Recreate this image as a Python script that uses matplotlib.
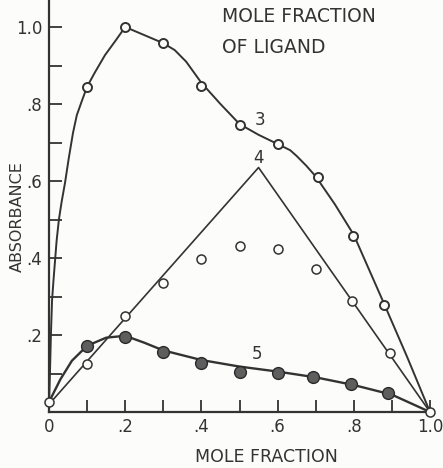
import matplotlib.pyplot as plt

# measured points (mole fraction, absorbance)
x3 = [0.1, 0.2, 0.3, 0.4, 0.5, 0.6, 0.705, 0.798, 0.88]
abs3 = [0.845, 1.0, 0.958, 0.847, 0.745, 0.696, 0.61, 0.457, 0.278]
x4 = [0.1, 0.2, 0.3, 0.4, 0.5, 0.6, 0.7, 0.795, 0.895]
abs4 = [0.125, 0.25, 0.335, 0.397, 0.431, 0.423, 0.371, 0.288, 0.153]
x5 = [0.1, 0.2, 0.3, 0.4, 0.5, 0.6, 0.693, 0.793, 0.89]
abs5 = [0.172, 0.195, 0.156, 0.128, 0.104, 0.101, 0.091, 0.073, 0.049]
end_x = [0.0, 1.0]
end_y = [0.026, 0.0]

# hand-drawn curves
c3_x = [0, 0.001, 0.003, 0.005, 0.008, 0.012, 0.016, 0.02, 0.026, 0.033,
        0.042, 0.052, 0.063, 0.073, 0.087, 0.1, 0.121, 0.147, 0.175, 0.2,
        0.3, 0.33, 0.36, 0.4, 0.45, 0.5, 0.55, 0.6, 0.633, 0.65, 0.675, 0.7,
        0.75, 0.8, 0.84, 0.88, 0.94, 1.0]
c3_y = [0, 0.05, 0.12, 0.2, 0.29, 0.345, 0.395, 0.445, 0.5, 0.545,
        0.595, 0.66, 0.725, 0.771, 0.81, 0.845, 0.883, 0.927, 0.965, 1.0,
        0.958, 0.94, 0.91, 0.855, 0.8, 0.748, 0.72, 0.696, 0.68, 0.665, 0.64,
        0.612, 0.54, 0.46, 0.37, 0.28, 0.143, 0]
c4_x = [0.0, 0.55, 1.0]
c4_y = [0.02, 0.635, 0.0]
c5_x = [0, 0.03, 0.06, 0.1, 0.15, 0.2, 0.25, 0.3, 0.4, 0.5, 0.6, 0.7, 0.8, 0.9, 1.0]
c5_y = [0.026, 0.085, 0.133, 0.172, 0.193, 0.198, 0.18, 0.16, 0.135, 0.118,
        0.105, 0.09, 0.07, 0.045, 0]

x_ticks = [0, 0.2, 0.4, 0.6, 0.8, 1.0]
x_labels = ["0", ".2", ".4", ".6", ".8", "1.0"]
y_ticks = [0.2, 0.4, 0.6, 0.8, 1.0]
y_labels = [".2", ".4", ".6", ".8", "1.0"]

ink = "#333333"
paper = "#fcfcfb"
plt.rcParams["font.family"] = "DejaVu Sans"

fig = plt.figure(figsize=(4.43, 4.68), dpi=100, facecolor=paper)
ax = fig.add_axes([49 / 443, 56 / 468, 381 / 443, 412 / 468])
ax.set_facecolor(paper)

lw = 1.4
ax.plot(c3_x, c3_y, color=ink, lw=lw, clip_on=False, solid_joinstyle="round")
ax.plot(c4_x, c4_y, color=ink, lw=lw - 0.2, clip_on=False)
ax.plot(c5_x, c5_y, color=ink, lw=lw + 0.3, clip_on=False, solid_joinstyle="round")

ax.plot(x3, abs3, "o", ms=6.5, mfc=paper, mec=ink, mew=1.4, clip_on=False)
ax.plot(x4, abs4, "o", ms=6.5, mfc=paper, mec=ink, mew=1.1, clip_on=False)
ax.plot(x5, abs5, "o", ms=8.5, mfc="#5e5e5e", mec="#2a2a2a", mew=1.0, clip_on=False)
ax.plot(end_x, end_y, "o", ms=6.5, mfc=paper, mec=ink, mew=1.1, clip_on=False, zorder=5)

ax.text(0.554, 0.758, "3", color=ink, fontsize=12, ha="center", va="center")
ax.text(0.549, 0.66, "4", color=ink, fontsize=12, ha="center", va="center")
ax.text(0.546, 0.15, "5", color=ink, fontsize=12, ha="center", va="center")

ax.text(0.454, 1.026, "MOLE FRACTION", color=ink, fontsize=13.5, ha="left", va="center")
ax.text(0.454, 0.948, "OF LIGAND", color=ink, fontsize=13.5, ha="left", va="center")

# top scale, cut off by the page edge
for xv, lab in zip(x_ticks[1:], x_labels[1:]):
    ax.text(xv - 0.015, 1.062, lab, color=ink, fontsize=12, ha="center",
            va="bottom", clip_on=False)

ax.set_xlim(0, 1.0)
ax.set_ylim(0, 412 / 385)
ax.set_xticks([i / 10 for i in range(11)], minor=True)
ax.set_yticks([i / 10 for i in range(11)], minor=True)
ax.set_xticks(x_ticks)
ax.set_xticklabels(x_labels)
ax.set_yticks(y_ticks)
ax.set_yticklabels(y_labels)
ax.tick_params(which="both", direction="in", length=9, width=1.3, color=ink,
               labelcolor=ink, labelsize=12)
ax.tick_params(axis="x", pad=4)
ax.tick_params(axis="y", pad=5)

for side in ["top", "right"]:
    ax.spines[side].set_visible(False)
for side in ["left", "bottom"]:
    ax.spines[side].set_linewidth(1.6)
    ax.spines[side].set_color(ink)

fig.text(266 / 443, 1 - 457 / 468, "MOLE FRACTION", color=ink, fontsize=12.5,
         ha="center", va="center")
fig.text(17 / 443, 1 - 217 / 468, "ABSORBANCE", color=ink, fontsize=11.5,
         rotation=90, ha="center", va="center")

plt.savefig("out.png", dpi=100, facecolor=fig.get_facecolor())
